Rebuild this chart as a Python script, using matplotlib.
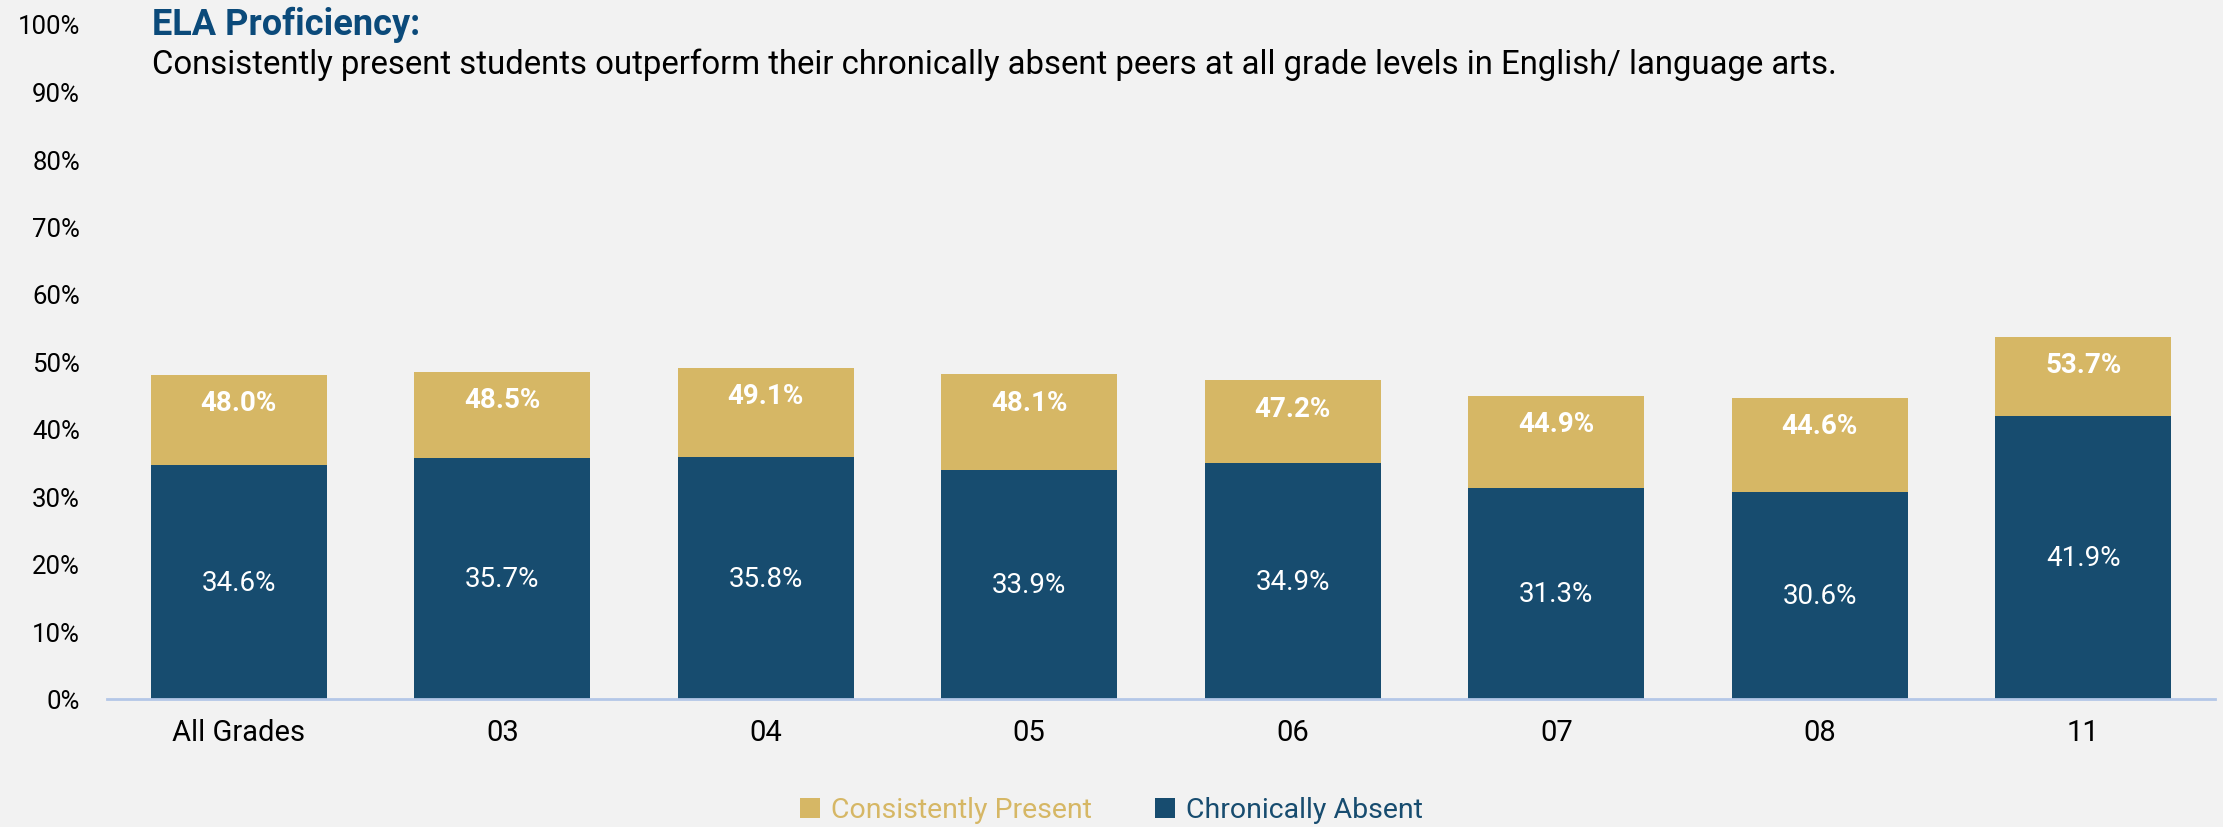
import matplotlib.pyplot as plt

grades = ['All Grades', '03', '04', '05', '06', '07', '08', '11']
present = [48.0, 48.5, 49.1, 48.1, 47.2, 44.9, 44.6, 53.7]
absent = [34.6, 35.7, 35.8, 33.9, 34.9, 31.3, 30.6, 41.9]

gold = '#D6B765'
navy = '#174C6F'
bg = '#F2F2F2'

plt.rcParams['font.family'] = ['Roboto', 'DejaVu Sans']

fig = plt.figure(figsize=(22.23, 8.28), dpi=100, facecolor=bg)
ax = fig.add_axes([107 / 2223, 1 - 700 / 828, 2108 / 2223, 675 / 828])
ax.set_facecolor(bg)

x = range(len(grades))
b1 = ax.bar(x, present, width=0.668, color=gold, label='Consistently Present', zorder=2)
b2 = ax.bar(x, absent, width=0.668, color=navy, label='Chronically Absent', zorder=3)

for i in x:
    ax.annotate(f'{present[i]:.1f}%', (i, present[i]), xytext=(0, -20), textcoords='offset points',
                ha='center', va='center', color='white', fontsize=20, fontweight='bold', zorder=4)
    ax.text(i, absent[i] / 2, f'{absent[i]:.1f}%', ha='center', va='center',
            color='white', fontsize=20, zorder=4)

ax.set_xlim(-0.5, len(grades) - 0.5)
ax.set_ylim(0, 100)
ax.set_yticks(range(0, 101, 10))
ax.set_yticklabels([f'{v}%' for v in range(0, 101, 10)], fontsize=18.5)
ax.set_xticks(list(x))
ax.set_xticklabels(grades, fontsize=21)
ax.tick_params(axis='both', length=0)
ax.tick_params(axis='y', pad=19.5)
ax.tick_params(axis='x', pad=14)
for s in ['top', 'right', 'left']:
    ax.spines[s].set_visible(False)
ax.spines['bottom'].set_color('#B4C7E7')
ax.spines['bottom'].set_linewidth(2)
ax.spines['bottom'].set_zorder(5)

fig.text(152 / 2223, 1 - 35 / 828, 'ELA Proficiency:', fontsize=26, fontweight='bold',
         color='#0B4A7A', ha='left', va='baseline')
fig.text(152 / 2223, 1 - 74 / 828,
         'Consistently present students outperform their chronically absent peers at all grade levels in English/ language arts.',
         fontsize=23.7, color='black', ha='left', va='baseline')

leg = fig.legend(handles=[b1, b2], loc='center', bbox_to_anchor=(0.5, 1 - 811 / 828), ncol=2,
                 frameon=False, fontsize=20.5, handlelength=0.7, handleheight=0.7,
                 columnspacing=2.2, handletextpad=0.4)
for t, c in zip(leg.get_texts(), [gold, navy]):
    t.set_color(c)

fig.savefig('out.png', dpi=100, facecolor=bg)
